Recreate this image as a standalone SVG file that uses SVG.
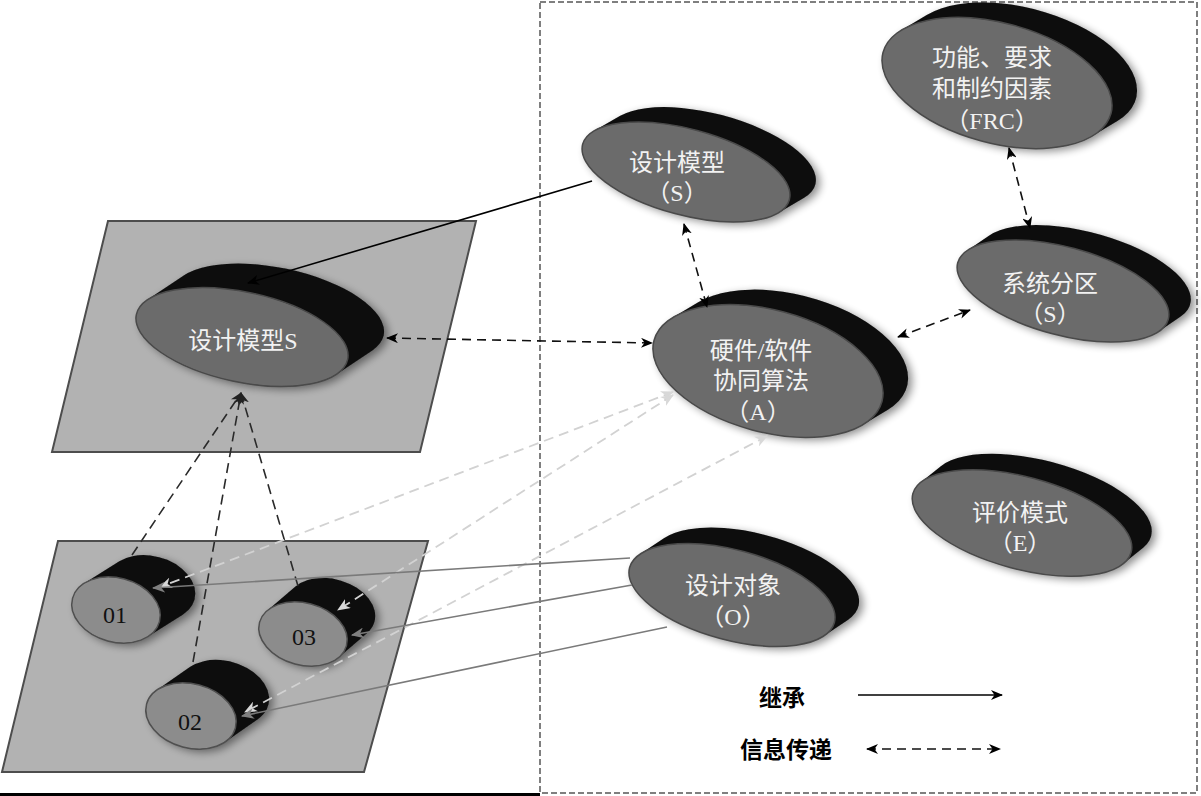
<svg xmlns="http://www.w3.org/2000/svg" width="1201" height="796" viewBox="0 0 1201 796">
<style>
.plane{fill:#b2b2b2;stroke:#4d4d4d;stroke-width:2}
.front{fill:#6b6b6b;stroke:#4a4a4a;stroke-width:1.5}
.cylf{fill:#8c8c8c;stroke:#505050;stroke-width:1.5}
.back{stroke:#0b0b0b;stroke-width:2;stroke-linecap:round;fill:none}
.lbl{fill:#f2f2f2;font-family:"Liberation Serif","Noto Sans CJK SC",serif;font-size:24px;text-anchor:middle}
.num{fill:#111;font-family:"Liberation Serif",serif;font-size:24px;text-anchor:middle}
.leg{fill:#000;font-family:"Noto Sans CJK SC",sans-serif;font-size:23px;font-weight:bold;text-anchor:middle}
.inh{stroke:#000;stroke-width:1.6;fill:none;marker-end:url(#ab)}
.info{stroke:#111;stroke-width:1.6;fill:none;stroke-dasharray:9 6;marker-start:url(#ab);marker-end:url(#ab)}
.dk{stroke:#2a2a2a;stroke-width:1.6;fill:none;stroke-dasharray:10 6;marker-end:url(#ad)}
.lite{stroke:#d2d2d2;stroke-width:1.8;fill:none;stroke-dasharray:10 6;marker-start:url(#al);marker-end:url(#al)}
.gray{stroke:#7a7a7a;stroke-width:1.6;fill:none;marker-end:url(#ag)}
</style>
<defs>
<marker id="ab" viewBox="0 0 12 10" refX="11" refY="5" markerWidth="12" markerHeight="10" markerUnits="userSpaceOnUse" orient="auto-start-reverse"><path d="M0,0 L12,5 L0,10 L3.5,5 z" fill="#000"/></marker>
<marker id="ad" viewBox="0 0 12 10" refX="11" refY="5" markerWidth="12" markerHeight="10" markerUnits="userSpaceOnUse" orient="auto-start-reverse"><path d="M0,0 L12,5 L0,10 L3.5,5 z" fill="#222"/></marker>
<marker id="al" viewBox="0 0 12 10" refX="11" refY="5" markerWidth="13" markerHeight="11" markerUnits="userSpaceOnUse" orient="auto-start-reverse"><path d="M0,0 L12,5 L0,10 L3.5,5 z" fill="#d8d8d8"/></marker>
<marker id="ag" viewBox="0 0 12 10" refX="11" refY="5" markerWidth="13" markerHeight="11" markerUnits="userSpaceOnUse" orient="auto-start-reverse"><path d="M0,0 L12,5 L0,10 L3.5,5 z" fill="#7f7f7f"/></marker>
<filter id="sh" filterUnits="userSpaceOnUse" x="-20" y="-20" width="1240" height="840">
<feGaussianBlur in="SourceAlpha" stdDeviation="4"/>
<feOffset dx="4" dy="3"/>
<feComponentTransfer><feFuncA type="linear" slope="0.45"/></feComponentTransfer>
<feMerge><feMergeNode/><feMergeNode in="SourceGraphic"/></feMerge>
</filter>
</defs>
<rect width="1201" height="796" fill="#fff"/>

<g id="boundary">
<rect x="540" y="2" width="657" height="791" fill="none" stroke="#555" stroke-width="1.5" stroke-dasharray="6 3"/>
<line x1="0" y1="794.5" x2="540" y2="794.5" stroke="#000" stroke-width="3"/>
</g>

<g id="plane-top"><polygon class="plane" points="108,221 476,221 420,452 52,452"/></g>
<g id="plane-bottom"><polygon class="plane" points="58,541 428,541 364,772 2,772"/></g>

<g id="n-dm-plane">
<g filter="url(#sh)"><line class="back" x1="0" y1="0" x2="0.28" y2="-0.688" transform="translate(242,337) rotate(12) scale(108,45)"/></g>
<ellipse class="front" rx="108" ry="45" transform="translate(242,337) rotate(12)"/>
<text class="lbl" x="243" y="349">设计模型S</text>
</g>

<g id="n-c01">
<g filter="url(#sh)"><line class="back" x1="0" y1="0" x2="0.625" y2="-0.947" transform="translate(116,610) rotate(15) scale(45,32)"/></g>
<ellipse class="cylf" rx="45" ry="32" transform="translate(116,610) rotate(15)"/>
<text class="num" x="115" y="623">01</text>
</g>
<g id="n-c03">
<g filter="url(#sh)"><line class="back" x1="0" y1="0" x2="0.463" y2="-0.982" transform="translate(303,634) rotate(15) scale(45,31)"/></g>
<ellipse class="cylf" rx="45" ry="31" transform="translate(303,634) rotate(15)"/>
<text class="num" x="304" y="645">03</text>
</g>
<g id="n-c02">
<g filter="url(#sh)"><line class="back" x1="0" y1="0" x2="0.563" y2="-0.961" transform="translate(191,716) rotate(15) scale(46,32)"/></g>
<ellipse class="cylf" rx="46" ry="32" transform="translate(191,716) rotate(15)"/>
<text class="num" x="190" y="730">02</text>
</g>

<g id="n-dm">
<g filter="url(#sh)"><line class="back" x1="0" y1="0" x2="0.198" y2="-0.494" transform="translate(686,172) rotate(15) scale(107,43)"/></g>
<ellipse class="front" rx="107" ry="43" transform="translate(686,172) rotate(15)"/>
<text class="lbl" x="677" y="171">设计模型</text>
<text class="lbl" x="677" y="201">（S）</text>
</g>

<g id="n-frc">
<g filter="url(#sh)"><line class="back" x1="0" y1="0" x2="0.172" y2="-0.349" transform="translate(997,83) rotate(15) scale(118,60)"/></g>
<ellipse class="front" rx="118" ry="60" transform="translate(997,83) rotate(15)"/>
<text class="lbl" x="992" y="66">功能、要求</text>
<text class="lbl" x="992" y="97">和制约因素</text>
<text class="lbl" x="992" y="129">（FRC）</text>
</g>

<g id="n-sp">
<g filter="url(#sh)"><line class="back" x1="0" y1="0" x2="0.159" y2="-0.459" transform="translate(1063,291) rotate(15) scale(109,44)"/></g>
<ellipse class="front" rx="109" ry="44" transform="translate(1063,291) rotate(15)"/>
<text class="lbl" x="1050" y="292">系统分区</text>
<text class="lbl" x="1050" y="322">（S）</text>
</g>

<g id="n-hw">
<g filter="url(#sh)"><line class="back" x1="0" y1="0" x2="0.172" y2="-0.344" transform="translate(768,371) rotate(15) scale(118,61)"/></g>
<ellipse class="front" rx="118" ry="61" transform="translate(768,371) rotate(15)"/>
<text class="lbl" x="761" y="359">硬件/软件</text>
<text class="lbl" x="761" y="389">协同算法</text>
<text class="lbl" x="758" y="420">（A）</text>
</g>

<g id="n-eval">
<g filter="url(#sh)"><line class="back" x1="0" y1="0" x2="0.134" y2="-0.449" transform="translate(1022,523) rotate(15) scale(113,46)"/></g>
<ellipse class="front" rx="113" ry="46" transform="translate(1022,523) rotate(15)"/>
<text class="lbl" x="1020" y="521">评价模式</text>
<text class="lbl" x="1020" y="551">（E）</text>
</g>

<g id="n-obj">
<g filter="url(#sh)"><line class="back" x1="0" y1="0" x2="0.18" y2="-0.481" transform="translate(732,595) rotate(15) scale(106,45)"/></g>
<ellipse class="front" rx="106" ry="45" transform="translate(732,595) rotate(15)"/>
<text class="lbl" x="733" y="594">设计对象</text>
<text class="lbl" x="733" y="625">（O）</text>
</g>

<g id="connectors">
<line class="inh" x1="592" y1="181" x2="248" y2="283"/>
<line class="info" x1="387" y1="338" x2="652" y2="343"/>
<line class="info" x1="684" y1="224" x2="707" y2="307"/>
<line class="info" x1="1009" y1="148" x2="1030" y2="228"/>
<line class="info" x1="898" y1="337" x2="970" y2="310"/>
<line class="dk" x1="132" y1="555" x2="241" y2="393"/>
<line class="dk" x1="193" y1="662" x2="241" y2="393"/>
<line class="dk" x1="298" y1="586" x2="241" y2="393"/>
<line class="lite" x1="673" y1="392" x2="160" y2="587"/>
<line class="lite" x1="673" y1="395" x2="338" y2="610"/>
<line class="lite" x1="767" y1="436" x2="245" y2="712"/>
<line class="gray" x1="630" y1="558" x2="153" y2="588"/>
<line class="gray" x1="632" y1="585" x2="352" y2="635"/>
<line class="gray" x1="667" y1="627" x2="242" y2="716"/>
</g>

<g id="legend">
<text class="leg" x="782" y="706">继承</text>
<line class="inh" x1="858" y1="695" x2="1002" y2="695"/>
<text class="leg" x="786" y="758">信息传递</text>
<line class="info" x1="867" y1="749" x2="1000" y2="749"/>
</g>
</svg>
